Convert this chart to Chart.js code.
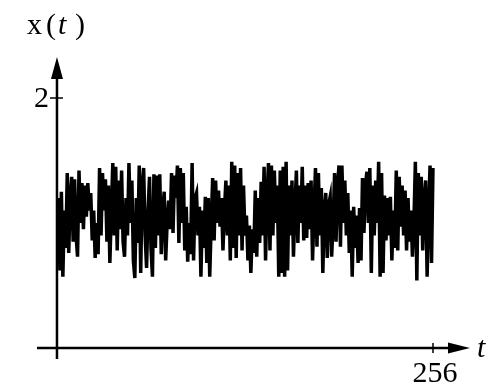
<!DOCTYPE html>
<html>
<head>
<meta charset="utf-8">
<script src="https://cdn.jsdelivr.net/npm/chart.js@4/dist/chart.umd.min.js"></script>
<style>
  html, body { margin: 0; padding: 0; background: #fff; }
  #wrap { width: 502px; height: 385px; }
</style>
</head>
<body>
<div id="wrap"><canvas id="c" width="502" height="385"></canvas></div>
<script>
// Sampled signal x(t), one value per time step t = 1..256
const SIGNAL = [
  1.20, 0.62, 1.25, 0.57, 1.10, 0.80, 1.40, 0.76,
  1.20, 1.37, 0.85, 1.35, 0.90, 0.73, 1.42, 1.00,
  1.32, 0.95, 1.30, 1.05, 1.32, 1.10, 1.24, 0.86,
  1.10, 0.72, 1.00, 0.75, 1.44, 0.90, 1.40, 1.10,
  1.35, 0.85, 1.30, 0.68, 1.10, 1.48, 0.90, 1.45,
  0.78, 1.34, 0.95, 1.42, 0.85, 0.73, 1.20, 0.90,
  1.48, 1.00, 1.34, 0.70, 0.56, 1.20, 0.84, 1.46,
  0.60, 1.30, 1.44, 0.90, 0.64, 1.10, 1.37, 0.80,
  0.57, 1.39, 0.80, 1.38, 0.90, 1.39, 0.75, 1.10,
  1.25, 0.70, 1.00, 1.18, 0.95, 1.40, 0.92, 1.38,
  1.20, 1.46, 0.84, 1.44, 1.00, 1.40, 0.78, 1.13,
  0.69, 1.00, 0.75, 1.48, 0.70, 1.20, 1.24, 0.90,
  1.13, 0.57, 1.10, 0.80, 1.21, 0.68, 1.20, 0.57,
  1.00, 1.36, 0.86, 1.34, 1.00, 1.26, 0.97, 1.20,
  0.78, 1.10, 1.34, 0.90, 1.30, 0.70, 1.49, 0.80,
  1.46, 0.72, 1.40, 0.90, 1.44, 0.78, 1.30, 0.90,
  1.06, 0.70, 0.98, 0.60, 0.95, 0.76, 1.26, 0.73,
  1.20, 0.84, 1.33, 0.90, 1.45, 0.70, 1.20, 1.48,
  0.78, 1.46, 0.90, 1.42, 1.00, 1.30, 0.57, 1.42,
  0.60, 1.45, 0.57, 1.49, 0.62, 1.30, 0.90, 1.34,
  0.73, 1.10, 1.42, 0.84, 1.30, 1.00, 1.45, 0.86,
  1.30, 0.88, 1.32, 0.95, 1.34, 0.70, 1.10, 1.44,
  0.81, 1.40, 0.90, 1.28, 0.60, 1.10, 1.24, 0.72,
  1.15, 1.21, 0.73, 1.00, 1.40, 0.85, 1.30, 1.46,
  0.81, 1.46, 1.00, 1.34, 0.90, 1.24, 0.76, 1.10,
  0.57, 1.13, 0.80, 1.06, 0.68, 1.12, 0.70, 1.36,
  0.92, 1.30, 1.41, 1.00, 1.44, 0.60, 1.30, 0.90,
  1.34, 1.00, 1.49, 0.57, 1.40, 0.60, 1.22, 0.86,
  1.20, 0.90, 1.21, 0.70, 1.10, 0.80, 1.42, 0.78,
  1.37, 0.97, 1.30, 0.90, 1.26, 0.78, 1.20, 0.85,
  1.10, 0.73, 1.00, 1.49, 0.54, 1.40, 0.90, 1.37,
  0.78, 1.20, 1.34, 0.57, 1.10, 1.46, 0.68, 1.44
];
const T = SIGNAL.map((_, i) => i + 1);

// Axis ticks and names
const X_TICKS = [256];
const Y_TICKS = [2];
const X_NAME = 't';
const Y_NAME = 'x';
const Y_ARG = 't';

const SERIF = '"Liberation Serif", "DejaVu Serif", serif';

// Arrowed axes crossing at the origin, with their tick marks and labels
const arrowAxes = {
  id: 'arrowAxes',
  beforeDatasetsDraw(chart) {
    const { ctx, chartArea: a, scales: { x, y } } = chart;
    const x0 = x.getPixelForValue(0);
    const y0 = y.getPixelForValue(0);
    ctx.save();
    ctx.strokeStyle = '#000';
    ctx.fillStyle = '#000';
    ctx.lineWidth = 2.5;

    // horizontal axis
    ctx.beginPath();
    ctx.moveTo(a.left, y0);
    ctx.lineTo(a.right - 14, y0);
    ctx.stroke();
    ctx.beginPath();
    ctx.moveTo(a.right, y0);
    ctx.lineTo(a.right - 22, y0 - 5.5);
    ctx.lineTo(a.right - 22, y0 + 5.5);
    ctx.closePath();
    ctx.fill();

    // vertical axis
    ctx.beginPath();
    ctx.moveTo(x0, a.bottom);
    ctx.lineTo(x0, a.top + 14);
    ctx.stroke();
    ctx.beginPath();
    ctx.moveTo(x0, a.top);
    ctx.lineTo(x0 - 6, a.top + 22);
    ctx.lineTo(x0 + 6, a.top + 22);
    ctx.closePath();
    ctx.fill();

    // tick marks
    ctx.lineWidth = 1.5;
    X_TICKS.forEach(v => {
      const px = x.getPixelForValue(v);
      ctx.beginPath();
      ctx.moveTo(px, y0 - 5);
      ctx.lineTo(px, y0 + 5);
      ctx.stroke();
    });
    Y_TICKS.forEach(v => {
      const py = y.getPixelForValue(v);
      ctx.beginPath();
      ctx.moveTo(x0 - 7, py);
      ctx.lineTo(x0 + 6, py);
      ctx.stroke();
    });

    // tick labels
    ctx.font = '30px ' + SERIF;
    ctx.textAlign = 'center';
    ctx.textBaseline = 'alphabetic';
    X_TICKS.forEach(v => {
      ctx.fillText(String(v), x.getPixelForValue(v) + 2, y0 + 34);
    });
    ctx.textAlign = 'right';
    ctx.textBaseline = 'middle';
    Y_TICKS.forEach(v => {
      ctx.fillText(String(v), x0 - 8, y.getPixelForValue(v) + 1);
    });

    // axis names
    ctx.textBaseline = 'alphabetic';
    ctx.textAlign = 'left';
    ctx.font = 'italic 30px ' + SERIF;
    ctx.fillText(X_NAME, a.right + 7, y0 + 9);

    ctx.font = '30px ' + SERIF;
    ctx.fillText(Y_NAME, 27, 34);
    ctx.fillText('(', 46, 34);
    ctx.font = 'italic 30px ' + SERIF;
    ctx.fillText(Y_ARG, 58, 34);
    ctx.font = '30px ' + SERIF;
    ctx.fillText(')', 75, 34);
    ctx.restore();
  }
};

new Chart(document.getElementById('c'), {
  type: 'line',
  data: {
    datasets: [{
      data: SIGNAL.map((v, i) => ({ x: T[i], y: v })),
      borderColor: '#000',
      borderWidth: 3.5,
      pointRadius: 0,
      tension: 0,
      fill: false
    }]
  },
  options: {
    responsive: false,
    devicePixelRatio: 1,
    animation: false,
    layout: { padding: { left: 37, right: 32, top: 57, bottom: 26 } },
    plugins: { legend: { display: false }, tooltip: { enabled: false } },
    scales: {
      x: { type: 'linear', display: false, min: -13.6, max: 281.2 },
      y: { type: 'linear', display: false, min: -0.088, max: 2.328 }
    }
  },
  plugins: [arrowAxes]
});
</script>
</body>
</html>
